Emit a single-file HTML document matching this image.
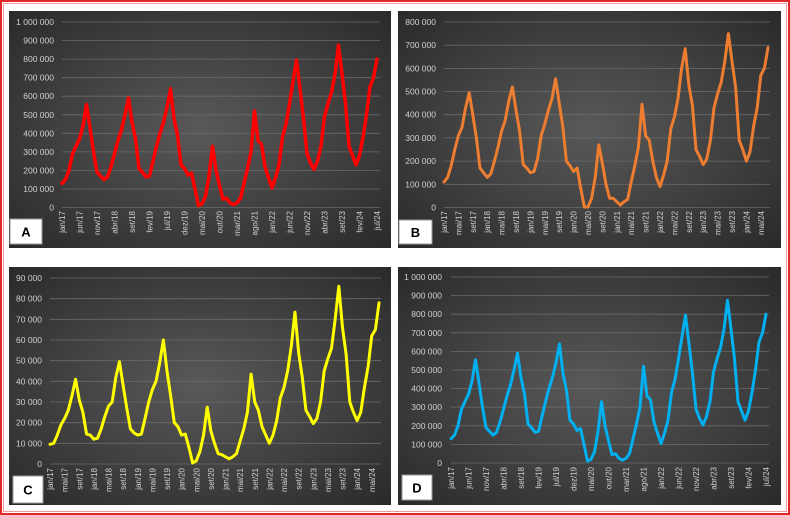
<!DOCTYPE html>
<html><head><meta charset="utf-8"><style>
html,body{margin:0;padding:0;background:#fff;}
svg{display:block;font-family:"Liberation Sans",sans-serif;}
.yl{font-size:8.5px;fill:#d0d0d0;text-anchor:end;}
.xl{font-size:8px;fill:#d0d0d0;text-anchor:end;}
.g{stroke:#6a6a6a;stroke-width:0.8;}
.ln{fill:none;stroke-linejoin:round;stroke-linecap:round;}
.bx{fill:#fff;stroke:#999;stroke-width:1;}
.lt{font-size:13px;font-weight:bold;fill:#000;text-anchor:middle;}
</style></head><body>
<svg width="790" height="515" viewBox="0 0 790 515">
<defs>
<radialGradient id="bg" cx="0.5" cy="0.5" r="0.7">
<stop offset="0" stop-color="#595959"/><stop offset="1" stop-color="#2a2a2a"/>
</radialGradient>
</defs>
<rect x="1" y="1" width="788" height="513" fill="#fff" stroke="#e02828" stroke-width="2"/>
<rect x="3.5" y="3.5" width="783" height="508" fill="none" stroke="#f08080" stroke-width="0.8"/>

<rect x="9" y="11" width="382" height="237" fill="url(#bg)"/>
<rect x="398" y="11" width="383" height="237" fill="url(#bg)"/>
<rect x="9" y="267" width="382" height="238" fill="url(#bg)"/>
<rect x="398" y="267" width="383" height="238" fill="url(#bg)"/>

<g class="g">
<line x1="62" x2="380" y1="207.5" y2="207.5"/><line x1="62" x2="380" y1="189" y2="189"/><line x1="62" x2="380" y1="170.4" y2="170.4"/><line x1="62" x2="380" y1="151.9" y2="151.9"/><line x1="62" x2="380" y1="133.3" y2="133.3"/><line x1="62" x2="380" y1="114.8" y2="114.8"/><line x1="62" x2="380" y1="96.2" y2="96.2"/><line x1="62" x2="380" y1="77.7" y2="77.7"/><line x1="62" x2="380" y1="59.1" y2="59.1"/><line x1="62" x2="380" y1="40.6" y2="40.6"/><line x1="62" x2="380" y1="22" y2="22"/>
</g>
<g class="yl">
<text x="54" y="210.5">0</text><text x="54" y="192">100 000</text><text x="54" y="173.4">200 000</text><text x="54" y="154.9">300 000</text><text x="54" y="136.3">400 000</text><text x="54" y="117.8">500 000</text><text x="54" y="99.2">600 000</text><text x="54" y="80.7">700 000</text><text x="54" y="62.1">800 000</text><text x="54" y="43.6">900 000</text><text x="54" y="25">1 000 000</text>
</g>
<g class="xl">
<text transform="translate(65,211) rotate(-90)">jan/17</text><text transform="translate(82.5,211) rotate(-90)">jun/17</text><text transform="translate(100,211) rotate(-90)">nov/17</text><text transform="translate(117.5,211) rotate(-90)">abr/18</text><text transform="translate(135,211) rotate(-90)">set/18</text><text transform="translate(152.5,211) rotate(-90)">fev/19</text><text transform="translate(170,211) rotate(-90)">jul/19</text><text transform="translate(187.5,211) rotate(-90)">dez/19</text><text transform="translate(205,211) rotate(-90)">mai/20</text><text transform="translate(222.5,211) rotate(-90)">out/20</text><text transform="translate(240,211) rotate(-90)">mar/21</text><text transform="translate(257.5,211) rotate(-90)">ago/21</text><text transform="translate(275,211) rotate(-90)">jan/22</text><text transform="translate(292.5,211) rotate(-90)">jun/22</text><text transform="translate(310,211) rotate(-90)">nov/22</text><text transform="translate(327.5,211) rotate(-90)">abr/23</text><text transform="translate(345,211) rotate(-90)">set/23</text><text transform="translate(362.5,211) rotate(-90)">fev/24</text><text transform="translate(380,211) rotate(-90)">jul/24</text>
</g>
<polyline class="ln" stroke="#ff0000" stroke-width="3.5" vector-effect="non-scaling-stroke" transform="translate(62,207.5) scale(3.5,-0.1855)" points="0,130 1,150 2,200 3,290 4,330 5,370 6,440 7,555 8,430 9,300 10,190 11,170 12,150 13,165 14,220 15,290 16,360 17,420 18,500 19,590 20,460 21,370 22,210 23,190 24,165 25,170 26,250 27,330 28,400 29,460 30,540 31,640 32,480 33,390 34,230 35,210 36,175 37,185 38,100 39,10 40,20 41,60 42,170 43,330 44,200 45,120 46,45 47,50 48,25 49,15 50,25 51,50 52,130 53,210 54,300 55,520 56,360 57,340 58,220 59,160 60,105 61,160 62,230 63,380 64,450 65,560 66,680 67,795 68,640 69,480 70,290 71,240 72,205 73,250 74,330 75,490 76,560 77,620 78,720 79,875 80,720 81,560 82,330 83,280 84,230 85,280 86,380 87,500 88,650 89,700 90,800"/>
<rect class="bx" x="10" y="219" width="32" height="25"/><text class="lt" x="26" y="236.5">A</text>

<g class="g">
<line x1="444" x2="770" y1="207.5" y2="207.5"/><line x1="444" x2="770" y1="184.3" y2="184.3"/><line x1="444" x2="770" y1="161.1" y2="161.1"/><line x1="444" x2="770" y1="137.9" y2="137.9"/><line x1="444" x2="770" y1="114.7" y2="114.7"/><line x1="444" x2="770" y1="91.5" y2="91.5"/><line x1="444" x2="770" y1="68.4" y2="68.4"/><line x1="444" x2="770" y1="45.2" y2="45.2"/><line x1="444" x2="770" y1="22" y2="22"/>
</g>
<g class="yl">
<text x="436" y="210.5">0</text><text x="436" y="187.3">100 000</text><text x="436" y="164.1">200 000</text><text x="436" y="140.9">300 000</text><text x="436" y="117.7">400 000</text><text x="436" y="94.5">500 000</text><text x="436" y="71.4">600 000</text><text x="436" y="48.2">700 000</text><text x="436" y="25">800 000</text>
</g>
<g class="xl">
<text transform="translate(447,211) rotate(-90)">jan/17</text><text transform="translate(461.4,211) rotate(-90)">mai/17</text><text transform="translate(475.8,211) rotate(-90)">set/17</text><text transform="translate(490.2,211) rotate(-90)">jan/18</text><text transform="translate(504.6,211) rotate(-90)">mai/18</text><text transform="translate(519,211) rotate(-90)">set/18</text><text transform="translate(533.4,211) rotate(-90)">jan/19</text><text transform="translate(547.8,211) rotate(-90)">mai/19</text><text transform="translate(562.2,211) rotate(-90)">set/19</text><text transform="translate(576.6,211) rotate(-90)">jan/20</text><text transform="translate(591,211) rotate(-90)">mai/20</text><text transform="translate(605.4,211) rotate(-90)">set/20</text><text transform="translate(619.8,211) rotate(-90)">jan/21</text><text transform="translate(634.2,211) rotate(-90)">mai/21</text><text transform="translate(648.6,211) rotate(-90)">set/21</text><text transform="translate(663,211) rotate(-90)">jan/22</text><text transform="translate(677.4,211) rotate(-90)">mai/22</text><text transform="translate(691.8,211) rotate(-90)">set/22</text><text transform="translate(706.2,211) rotate(-90)">jan/23</text><text transform="translate(720.6,211) rotate(-90)">mai/23</text><text transform="translate(735,211) rotate(-90)">set/23</text><text transform="translate(749.4,211) rotate(-90)">jan/24</text><text transform="translate(763.8,211) rotate(-90)">mai/24</text>
</g>
<polyline class="ln" stroke="#ed7d31" stroke-width="3" vector-effect="non-scaling-stroke" transform="translate(444,207.5) scale(3.6,-0.2319)" points="0,110 1,130 2,180 3,250 4,310 5,345 6,430 7,495 8,400 9,300 10,170 11,150 12,130 13,145 14,200 15,260 16,330 17,375 18,460 19,520 20,420 21,330 22,185 23,170 24,150 25,155 26,210 27,310 28,360 29,420 30,470 31,555 32,450 33,350 34,200 35,180 36,155 37,170 38,80 39,2 40,2 41,40 42,130 43,270 44,190 45,100 46,40 47,40 48,25 49,10 50,25 51,35 52,110 53,180 54,260 55,445 56,310 57,290 58,200 59,130 60,90 61,140 62,200 63,340 64,390 65,470 66,600 67,685 68,530 69,440 70,250 71,220 72,185 73,210 74,290 75,430 76,490 77,540 78,630 79,750 80,630 81,520 82,290 83,250 84,200 85,240 86,350 87,430 88,570 89,600 90,690"/>
<rect class="bx" x="399" y="220" width="33" height="24"/><text class="lt" x="415.5" y="237">B</text>

<g class="g">
<line x1="50" x2="381" y1="464" y2="464"/><line x1="50" x2="381" y1="443.3" y2="443.3"/><line x1="50" x2="381" y1="422.7" y2="422.7"/><line x1="50" x2="381" y1="402" y2="402"/><line x1="50" x2="381" y1="381.3" y2="381.3"/><line x1="50" x2="381" y1="360.7" y2="360.7"/><line x1="50" x2="381" y1="340" y2="340"/><line x1="50" x2="381" y1="319.3" y2="319.3"/><line x1="50" x2="381" y1="298.7" y2="298.7"/><line x1="50" x2="381" y1="278" y2="278"/>
</g>
<g class="yl">
<text x="42" y="467">0</text><text x="42" y="446.3">10 000</text><text x="42" y="425.7">20 000</text><text x="42" y="405">30 000</text><text x="42" y="384.3">40 000</text><text x="42" y="363.7">50 000</text><text x="42" y="343">60 000</text><text x="42" y="322.3">70 000</text><text x="42" y="301.7">80 000</text><text x="42" y="281">90 000</text>
</g>
<g class="xl">
<text transform="translate(53,468) rotate(-90)">jan/17</text><text transform="translate(67.6,468) rotate(-90)">mai/17</text><text transform="translate(82.3,468) rotate(-90)">set/17</text><text transform="translate(96.9,468) rotate(-90)">jan/18</text><text transform="translate(111.5,468) rotate(-90)">mai/18</text><text transform="translate(126.1,468) rotate(-90)">set/18</text><text transform="translate(140.8,468) rotate(-90)">jan/19</text><text transform="translate(155.4,468) rotate(-90)">mai/19</text><text transform="translate(170,468) rotate(-90)">set/19</text><text transform="translate(184.6,468) rotate(-90)">jan/20</text><text transform="translate(199.3,468) rotate(-90)">mai/20</text><text transform="translate(213.9,468) rotate(-90)">set/20</text><text transform="translate(228.5,468) rotate(-90)">jan/21</text><text transform="translate(243.1,468) rotate(-90)">mai/21</text><text transform="translate(257.8,468) rotate(-90)">set/21</text><text transform="translate(272.4,468) rotate(-90)">jan/22</text><text transform="translate(287,468) rotate(-90)">mai/22</text><text transform="translate(301.6,468) rotate(-90)">set/22</text><text transform="translate(316.3,468) rotate(-90)">jan/23</text><text transform="translate(330.9,468) rotate(-90)">mai/23</text><text transform="translate(345.5,468) rotate(-90)">set/23</text><text transform="translate(360.1,468) rotate(-90)">jan/24</text><text transform="translate(374.8,468) rotate(-90)">mai/24</text>
</g>
<polyline class="ln" stroke="#ffff00" stroke-width="3" vector-effect="non-scaling-stroke" transform="translate(50,464) scale(3.656,-2.067)" points="0,9.5 1,10 2,14 3,19 4,22 5,26 6,33 7,41 8,31 9,25 10,14.5 11,14 12,12 13,12.5 14,17 15,23 16,28 17,30 18,42 19,49.5 20,38 21,27 22,17 23,15 24,14 25,14.5 26,22 27,30 28,36 29,40 30,49 31,60 32,45 33,33 34,20 35,18 36,14 37,14.5 38,8 39,0.5 40,1.5 41,6 42,14 43,27.5 44,16 45,10 46,5 47,4.5 48,3.5 49,2.5 50,3.5 51,5 52,11 53,17 54,25 55,43.5 56,30 57,26 58,18 59,14 60,10 61,14 62,21 63,32 64,37 65,45 66,57 67,73.5 68,54 69,42 70,26 71,23 72,19.5 73,22 74,30 75,45 76,51 77,56 78,70 79,86 80,66 81,53 82,30 83,25 84,21 85,25 86,37 87,47 88,62 89,65 90,78"/>
<rect class="bx" x="13" y="476" width="30" height="27"/><text class="lt" x="28" y="494.5">C</text>

<g class="g">
<line x1="451" x2="769" y1="463" y2="463"/><line x1="451" x2="769" y1="444.4" y2="444.4"/><line x1="451" x2="769" y1="425.8" y2="425.8"/><line x1="451" x2="769" y1="407.2" y2="407.2"/><line x1="451" x2="769" y1="388.6" y2="388.6"/><line x1="451" x2="769" y1="370" y2="370"/><line x1="451" x2="769" y1="351.4" y2="351.4"/><line x1="451" x2="769" y1="332.8" y2="332.8"/><line x1="451" x2="769" y1="314.2" y2="314.2"/><line x1="451" x2="769" y1="295.6" y2="295.6"/><line x1="451" x2="769" y1="277" y2="277"/>
</g>
<g class="yl">
<text x="442" y="466">0</text><text x="442" y="447.4">100 000</text><text x="442" y="428.8">200 000</text><text x="442" y="410.2">300 000</text><text x="442" y="391.6">400 000</text><text x="442" y="373">500 000</text><text x="442" y="354.4">600 000</text><text x="442" y="335.8">700 000</text><text x="442" y="317.2">800 000</text><text x="442" y="298.6">900 000</text><text x="442" y="280">1 000 000</text>
</g>
<g class="xl">
<text transform="translate(454,467) rotate(-90)">jan/17</text><text transform="translate(471.5,467) rotate(-90)">jun/17</text><text transform="translate(489,467) rotate(-90)">nov/17</text><text transform="translate(506.5,467) rotate(-90)">abr/18</text><text transform="translate(524,467) rotate(-90)">set/18</text><text transform="translate(541.5,467) rotate(-90)">fev/19</text><text transform="translate(559,467) rotate(-90)">jul/19</text><text transform="translate(576.5,467) rotate(-90)">dez/19</text><text transform="translate(594,467) rotate(-90)">mai/20</text><text transform="translate(611.5,467) rotate(-90)">out/20</text><text transform="translate(629,467) rotate(-90)">mar/21</text><text transform="translate(646.5,467) rotate(-90)">ago/21</text><text transform="translate(664,467) rotate(-90)">jan/22</text><text transform="translate(681.5,467) rotate(-90)">jun/22</text><text transform="translate(699,467) rotate(-90)">nov/22</text><text transform="translate(716.5,467) rotate(-90)">abr/23</text><text transform="translate(734,467) rotate(-90)">set/23</text><text transform="translate(751.5,467) rotate(-90)">fev/24</text><text transform="translate(769,467) rotate(-90)">jul/24</text>
</g>
<polyline class="ln" stroke="#00b0f0" stroke-width="3" vector-effect="non-scaling-stroke" transform="translate(451,463) scale(3.5,-0.186)" points="0,130 1,150 2,200 3,290 4,330 5,370 6,440 7,555 8,430 9,300 10,190 11,170 12,150 13,165 14,220 15,290 16,360 17,420 18,500 19,590 20,460 21,370 22,210 23,190 24,165 25,170 26,250 27,330 28,400 29,460 30,540 31,640 32,480 33,390 34,230 35,210 36,175 37,185 38,100 39,10 40,20 41,60 42,170 43,330 44,200 45,120 46,45 47,50 48,25 49,15 50,25 51,50 52,130 53,210 54,300 55,520 56,360 57,340 58,220 59,160 60,105 61,160 62,230 63,380 64,450 65,560 66,680 67,795 68,640 69,480 70,290 71,240 72,205 73,250 74,330 75,490 76,560 77,620 78,720 79,875 80,720 81,560 82,330 83,280 84,230 85,280 86,380 87,500 88,650 89,700 90,800"/>
<rect class="bx" x="402" y="475" width="30" height="25"/><text class="lt" x="417" y="492.5">D</text>
</svg>
</body></html>
